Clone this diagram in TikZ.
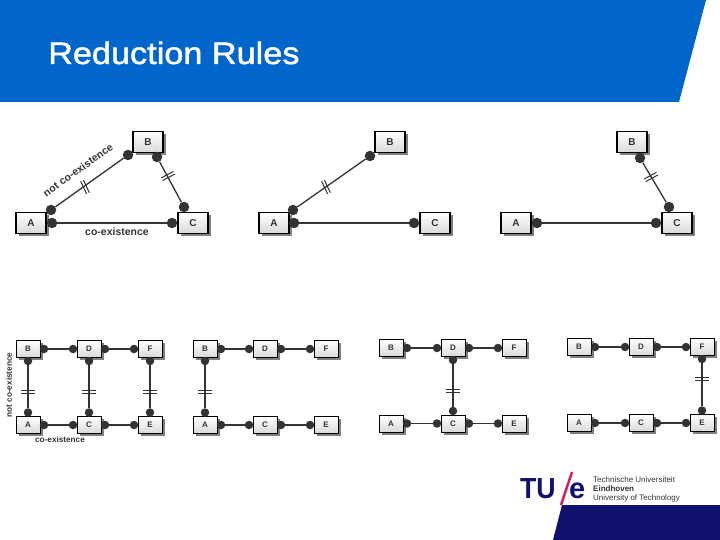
\documentclass[tikz,border=0pt]{standalone}
\usepackage{fontspec}
\setmainfont{Liberation Sans}
\newfontfamily\titlefont[FakeBold=1.5,FakeStretch=1.105]{Liberation Sans}
\usetikzlibrary{shadows,calc}
\definecolor{tueblue}{HTML}{0066CC}
\definecolor{tuenavy}{HTML}{10106E}
\definecolor{tuepink}{HTML}{D01C5C}
\definecolor{ink}{HTML}{333333}
\tikzset{
  x=1pt,y=-1pt,
  ent/.style={draw=black,line width=1.3pt,rectangle,inner sep=0pt,top color=white,bottom color=white!85!black,
    text=ink,font=\bfseries\fontsize{10}{10}\selectfont,
    drop shadow={shadow xshift=2.5pt,shadow yshift=-2.5pt,opacity=.5,fill=black}},
  big/.style={ent,minimum width=30pt,minimum height=21pt},
  small/.style={ent,line width=1pt,minimum width=24pt,minimum height=17pt,font=\bfseries\fontsize{8}{8}\selectfont},
  bdot/.style={circle,fill=ink,inner sep=0pt,minimum size=10.5pt},
  sdot/.style={circle,fill=ink,inner sep=0pt,minimum size=8.5pt},
  link/.style={draw=ink,line width=1.3pt},
  slink/.style={draw=ink,line width=1.05pt},
  tickm/.style={draw=ink,line width=1pt},
  lab/.style={text=ink,font=\bfseries\fontsize{10.5}{10.5}\selectfont,inner sep=0pt},
  slab/.style={text=ink,font=\bfseries\fontsize{8.2}{8.2}\selectfont,inner sep=0pt},
}
% double bar: centre x, centre y, angle, half length
\newcommand{\barmark}[4]{\draw[tickm,shift={(#1,#2)},rotate=#3] (-#4,-1.5) -- (#4,-1.5) (-#4,1.5) -- (#4,1.5);}
% lower group: suffix, x of three columns, top y, bottom y
\newcommand{\lowergroup}[6]{%
  \node[small] (B#1) at (#2,#5) {B};
  \node[small] (D#1) at (#3,#5) {D};
  \node[small] (F#1) at (#4,#5) {F};
  \node[small] (A#1) at (#2,#6) {A};
  \node[small] (C#1) at (#3,#6) {C};
  \node[small] (E#1) at (#4,#6) {E};
  \node[sdot] (bd#1) at ($(B#1.east)+(3.5,0)$) {};
  \node[sdot] (dl#1) at ($(D#1.west)+(-3.5,0)$) {};
  \node[sdot] (dr#1) at ($(D#1.east)+(3.5,0)$) {};
  \node[sdot] (fl#1) at ($(F#1.west)+(-3.5,0)$) {};
  \node[sdot] (ad#1) at ($(A#1.east)+(3.5,0)$) {};
  \node[sdot] (cl#1) at ($(C#1.west)+(-3.5,0)$) {};
  \node[sdot] (cr#1) at ($(C#1.east)+(3.5,0)$) {};
  \node[sdot] (el#1) at ($(E#1.west)+(-3.5,0)$) {};
  \draw[slink] (bd#1) -- (dl#1);
  \draw[slink] (dr#1) -- (fl#1);
  \draw[slink] (ad#1) -- (cl#1);
  \draw[slink] (cr#1) -- (el#1);
}
\newcommand{\vlink}[3]{% suffix, upper node, lower node
  \node[sdot] (up#1) at ($(#2.south)+(0,3)$) {};
  \node[sdot] (dn#1) at ($(#3.north)+(0,-3.5)$) {};
  \draw[slink] (up#1) -- (dn#1);
}
\begin{document}
\begin{tikzpicture}
\useasboundingbox (0,0) rectangle (720,540);
\fill[white] (0,0) rectangle (720,540);
% header
\fill[tueblue] (0,0) -- (706,0) -- (679,102) -- (0,102) -- cycle;
\node[anchor=base west,inner sep=0pt,text=white,font=\titlefont\fontsize{31}{31}\selectfont] (title) at (48,64) {Reduction Rules};
% footer
\fill[tuenavy] (553,540) -- (562,505) -- (720,505) -- (720,540) -- cycle;
\node[anchor=base west,inner sep=0pt,text=tuenavy,xscale=.92,font=\bfseries\fontsize{29}{29}\selectfont] (tu) at (520,498) {TU};
\draw[tuepink,line width=2.4pt] (572,472) -- (561,505);
\node[anchor=base west,inner sep=0pt,text=tuenavy,font=\bfseries\fontsize{29}{29}\selectfont] (tue) at (569,498) {e};
\node[anchor=base west,inner sep=0pt,text=ink,font=\fontsize{8}{8}\selectfont] (l1) at (593,482) {Technische Universiteit};
\node[anchor=base west,inner sep=0pt,text=ink,font=\bfseries\fontsize{8}{8}\selectfont] (l2) at (593,491) {Eindhoven};
\node[anchor=base west,inner sep=0pt,text=ink,font=\fontsize{8}{8}\selectfont] (l3) at (593,500) {University of Technology};
% top diagram 1
\node[big] (A1) at (31,223) {A};
\node[big] (B1) at (148,142) {B};
\node[big] (C1) at (193,223) {C};
\node[bdot] (a1t) at (51,210) {};
\node[bdot] (b1l) at (128,155) {};
\node[bdot] (b1b) at (157,157) {};
\node[bdot] (c1t) at (184,207) {};
\node[bdot] (a1r) at (52,223) {};
\node[bdot] (c1l) at (172,223) {};
\draw[link] (a1t) -- (b1l);
\draw[link] (b1b) -- (c1t);
\draw[link] (a1r) -- (c1l);
\barmark{85}{187}{-65}{7}
\barmark{168}{176}{28}{7}
\node[lab,rotate=35.5] (ne1) at (78,170) {not co-existence};
\node[lab] (ce1) at (117,232) {co-existence};
% top diagram 2
\node[big] (A2) at (274,223) {A};
\node[big] (B2) at (390,142) {B};
\node[big] (C2) at (435,223) {C};
\node[bdot] (a2t) at (293,210) {};
\node[bdot] (b2l) at (370,156) {};
\node[bdot] (a2r) at (294,223) {};
\node[bdot] (c2l) at (414,223) {};
\draw[link] (a2t) -- (b2l);
\draw[link] (a2r) -- (c2l);
\barmark{326}{187}{-65}{7}
% top diagram 3
\node[big] (A3) at (516,223) {A};
\node[big] (B3) at (632,142) {B};
\node[big] (C3) at (677,223) {C};
\node[bdot] (b3b) at (640,158) {};
\node[bdot] (c3t) at (669,207) {};
\node[bdot] (a3r) at (537,223) {};
\node[bdot] (c3l) at (656,223) {};
\draw[link] (b3b) -- (c3t);
\draw[link] (a3r) -- (c3l);
\barmark{651}{177}{28}{7}
% lower groups
\lowergroup{p}{28}{89}{150}{349}{425}
\vlink{pa}{Bp}{Ap}
\vlink{pb}{Dp}{Cp}
\vlink{pc}{Fp}{Ep}
\barmark{28}{392}{0}{7}
\barmark{89}{392}{0}{7}
\barmark{150}{392}{0}{7}
\node[slab,rotate=90] (ne2) at (9,385) {not co-existence};
\node[slab] (ce2) at (60,440) {co-existence};
\lowergroup{q}{205}{265}{326}{349}{425}
\vlink{qa}{Bq}{Aq}
\barmark{204.5}{392}{0}{7}
\lowergroup{r}{391}{453}{514}{348}{423.5}
\vlink{ra}{Dr}{Cr}
\barmark{453}{391}{0}{7}
\lowergroup{s}{579}{641}{702}{347}{423}
\vlink{sa}{Fs}{Es}
\barmark{702}{379}{0}{7}
\end{tikzpicture}
\end{document}
